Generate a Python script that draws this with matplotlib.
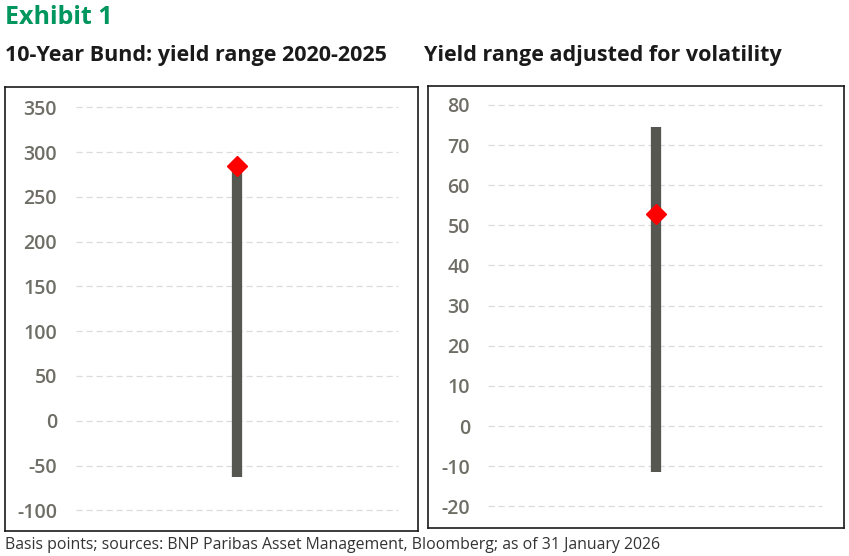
import matplotlib.pyplot as plt

# values (basis points)
bund_low, bund_high, bund_now = -63, 284, 284
adj_low, adj_high, adj_now = -11.5, 74.5, 52.7

left_ticks = [-100, -50, 0, 50, 100, 150, 200, 250, 300, 350]
right_ticks = [-20, -10, 0, 10, 20, 30, 40, 50, 60, 70, 80]

W, H = 849, 556
fig = plt.figure(figsize=(W / 100, H / 100), dpi=100)
plt.rcParams['font.family'] = ['Open Sans', 'DejaVu Sans']

def px_axes(x0, y0, x1, y1):
    # pixel box (top-left origin) -> figure fraction
    return fig.add_axes([x0 / W, 1 - y1 / H, (x1 - x0) / W, (y1 - y0) / H])

def panel(box, ylim, ticks, low, high, now, xc, gx0, gx1, pad):
    ax = px_axes(*box)
    ax.set_xlim(0, 1)
    ax.set_ylim(*ylim)
    for s in ax.spines.values():
        s.set_color('#1a1a1a')
        s.set_linewidth(1.2)
    for t in ticks:
        ax.axhline(t, gx0, gx1, color='#dcdcdc', lw=0.9, dashes=(5, 3), zorder=1)
    ax.vlines(xc, low, high, color='#575752', lw=7.4, zorder=2)
    ax.plot([xc], [now], marker='D', ms=10, color='#ff0000', mec='#ff0000', zorder=3)
    ax.set_xticks([])
    ax.set_yticks(ticks)
    ax.set_yticklabels([str(t) for t in ticks])
    ax.tick_params(axis='y', length=0, pad=pad, labelsize=14, labelcolor='#6e6e66')
    for lab in ax.get_yticklabels():
        lab.set_fontweight('semibold')
        lab.set_horizontalalignment('right')
    return ax

panel((5, 87, 418, 531), (-123.1, 372.7), left_ticks,
      bund_low, bund_high, bund_now, 0.562, 0.172, 0.952, -37.4)
panel((428, 86, 844, 528), (-25.4, 84.7), right_ticks,
      adj_low, adj_high, adj_now, 0.548, 0.144, 0.947, -30.2)

fig.text(5 / W, 1 - 17 / H, 'Exhibit 1', color='#00965e', fontsize=18,
         fontweight='bold', va='center', ha='left')
fig.text(5 / W, 1 - 55 / H, '10-Year Bund: yield range 2020-2025', color='#1a1a1a',
         fontsize=15.5, fontweight='bold', va='center', ha='left')
fig.text(424 / W, 1 - 55 / H, 'Yield range adjusted for volatility', color='#1a1a1a',
         fontsize=15.5, fontweight='bold', va='center', ha='left')
fig.text(5 / W, 1 - 545 / H,
         'Basis points; sources: BNP Paribas Asset Management, Bloomberg; as of 31 January 2026',
         color='#333333', fontsize=11.4, va='center', ha='left')

fig.savefig('out.png', dpi=100)
